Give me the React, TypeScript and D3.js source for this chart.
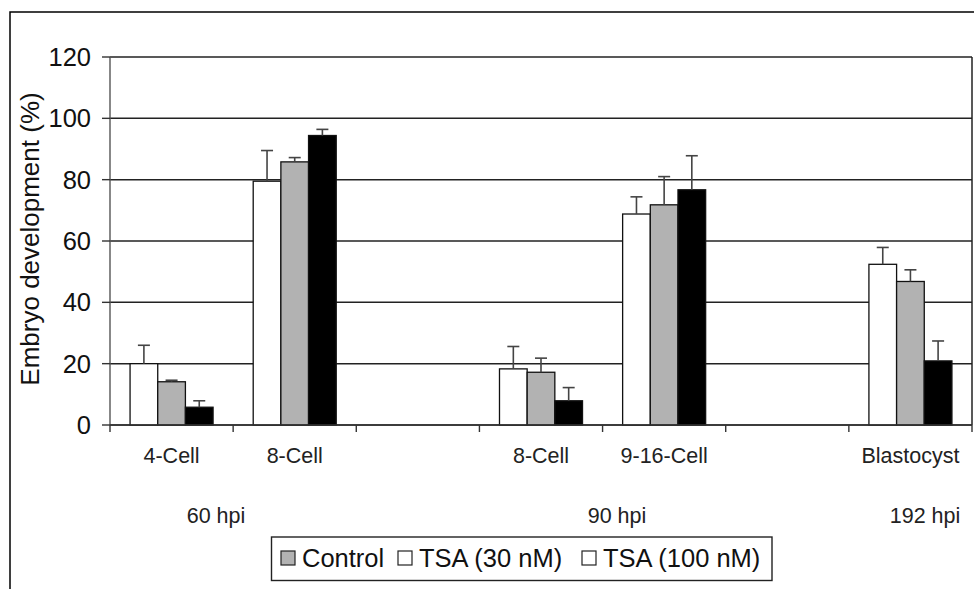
import React from "react";
import * as d3 from "d3";

// categories along the x axis (blank slots separate the time points)
const categories = ["4-Cell", "8-Cell", "", "8-Cell", "9-16-Cell", "", "Blastocyst"];
const timeLabels = ["60 hpi", "90 hpi", "192 hpi"];
const seriesNames = ["Control", "TSA (30 nM)", "TSA (100 nM)"];

// means (%) per category, null where the slot is empty
const control = [20, 79.5, null, 18.3, 68.8, null, 52.4];
const tsa30 = [14.1, 85.8, null, 17.2, 71.8, null, 46.8];
const tsa100 = [5.8, 94.4, null, 7.9, 76.7, null, 20.9];

// upper error bar lengths
const controlErr = [6, 10, null, 7.3, 5.6, null, 5.5];
const tsa30Err = [0.5, 1.4, null, 4.6, 9.2, null, 3.8];
const tsa100Err = [2.1, 2, null, 4.3, 11.1, null, 6.5];

const yTicks = [0, 20, 40, 60, 80, 100, 120];

const barFills = ["#ffffff", "#b2b2b2", "#000000"];
const legendFills = ["#b2b2b2", "#ffffff", "#ffffff"];

const W = 974;
const H = 589;
const left = 110;
const right = 972;
const top = 57;
const bottom = 425;
const font = "Liberation Sans, Arial, sans-serif";

export default function App() {
  const series = [control, tsa30, tsa100];
  const errs = [controlErr, tsa30Err, tsa100Err];

  const x = d3
    .scaleBand<number>()
    .domain(categories.map((_, i) => i))
    .range([left, right])
    .padding(0);
  const inner = d3
    .scaleBand<number>()
    .domain([0, 1, 2])
    .range([0, x.bandwidth()])
    .paddingInner(0)
    .paddingOuter(0.725);
  const y = d3.scaleLinear().domain([0, 120]).range([bottom, top]);

  // centres for the time-point labels
  const timeX = [216, 617, 925];

  const bw = inner.bandwidth();

  return (
    <svg
      width={W}
      height={H}
      style={{ position: "absolute", left: 0, top: 0, background: "#fff" }}
      fontFamily={font}
    >
      {/* outer frame */}
      <path d={`M10,${H} L10,12 L${W},12`} fill="none" stroke="#000" strokeWidth={1.5} />

      {/* gridlines */}
      {yTicks.map((t) => (
        <line key={"g" + t} x1={left} x2={right} y1={y(t)} y2={y(t)} stroke="#222" strokeWidth={1.5} />
      ))}
      <line x1={right} x2={right} y1={top} y2={bottom} stroke="#222" strokeWidth={1.5} />

      {/* bars */}
      {series.map((vals, s) =>
        vals.map((v, i) =>
          v == null ? null : (
            <rect
              key={`b${s}-${i}`}
              x={(x(i) as number) + (inner(s) as number)}
              y={y(v)}
              width={bw}
              height={y(0) - y(v)}
              fill={barFills[s]}
              stroke="#111"
              strokeWidth={1.3}
            />
          )
        )
      )}

      {/* error bars */}
      {series.map((vals, s) =>
        vals.map((v, i) => {
          const e = errs[s][i];
          if (v == null || e == null) return null;
          const cx = (x(i) as number) + (inner(s) as number) + bw / 2;
          return (
            <g key={`e${s}-${i}`} stroke="#444" strokeWidth={1.6}>
              <line x1={cx} x2={cx} y1={y(v)} y2={y(v + e)} />
              <line x1={cx - 6} x2={cx + 6} y1={y(v + e)} y2={y(v + e)} />
            </g>
          );
        })
      )}

      {/* y axis */}
      <line x1={left} x2={left} y1={top} y2={bottom} stroke="#555" strokeWidth={1.4} />
      {yTicks.map((t) => (
        <g key={"t" + t}>
          <line x1={left - 8} x2={left} y1={y(t)} y2={y(t)} stroke="#333" strokeWidth={1.4} />
          <text x={91} y={y(t)} dy="0.35em" textAnchor="end" fontSize={25.5} fill="#111">
            {t}
          </text>
        </g>
      ))}
      <text
        transform={`translate(30,${(top + bottom) / 2 - 2}) rotate(-90)`}
        textAnchor="middle"
        dy="0.35em"
        fontSize={26}
        fill="#111"
      >
        Embryo development (%)
      </text>

      {/* x axis */}
      <line x1={left} x2={right} y1={bottom} y2={bottom} stroke="#333" strokeWidth={1.4} />
      {d3.range(categories.length + 1).map((i) => {
        const tx = left + i * x.step();
        return <line key={"xt" + i} x1={tx} x2={tx} y1={bottom} y2={bottom + 7} stroke="#333" strokeWidth={1.4} />;
      })}
      {categories.map((c, i) =>
        c ? (
          <text key={"c" + i} x={(x(i) as number) + x.bandwidth() / 2} y={463} textAnchor="middle" fontSize={21.5} fill="#222">
            {c}
          </text>
        ) : null
      )}
      {timeLabels.map((t, i) => (
        <text key={"h" + i} x={timeX[i]} y={523} textAnchor="middle" fontSize={21.5} fill="#222">
          {t}
        </text>
      ))}

      {/* legend */}
      <rect x={271.5} y={537} width={500.5} height={43.5} fill="#fff" stroke="#222" strokeWidth={1.4} />
      {seriesNames.map((n, i) => {
        const lx = [281, 398, 582][i];
        return (
          <g key={"l" + i}>
            <rect x={lx} y={551} width={14} height={14} fill={legendFills[i]} stroke="#222" strokeWidth={1.2} />
            <text x={lx + 21} y={567} fontSize={25.5} fill="#111">
              {n}
            </text>
          </g>
        );
      })}
    </svg>
  );
}
